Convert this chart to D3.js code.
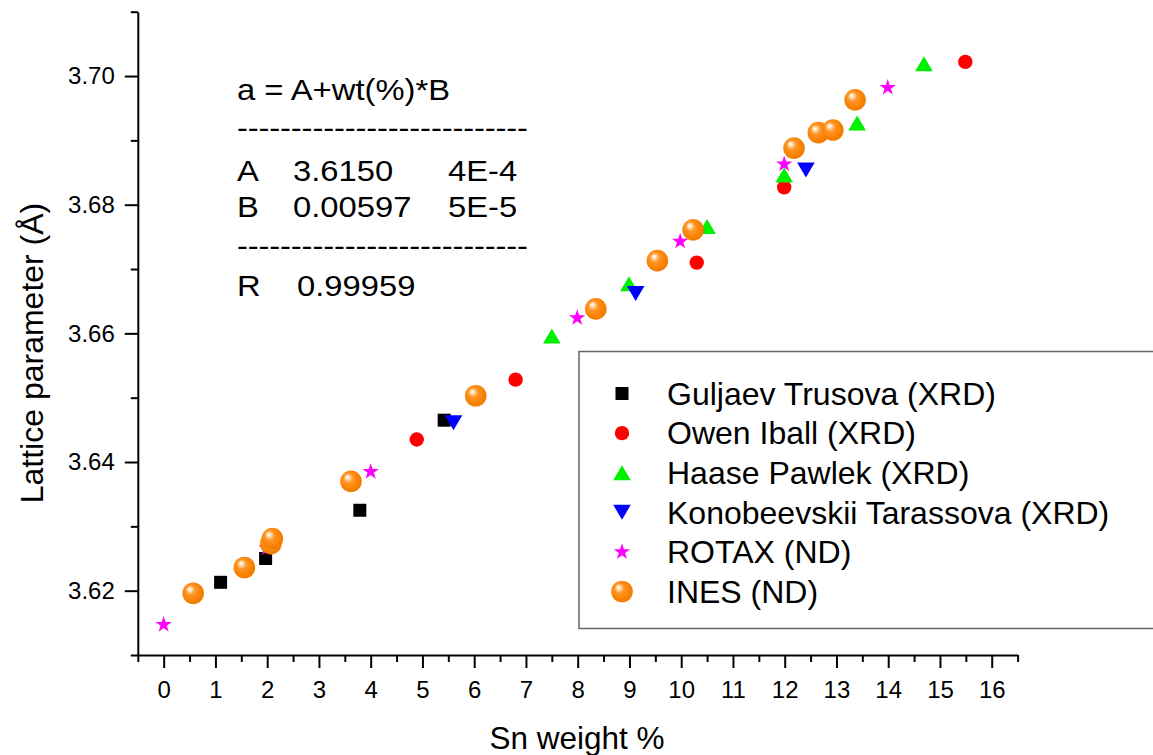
<!DOCTYPE html>
<html>
<head>
<meta charset="utf-8">
<script src="https://cdn.jsdelivr.net/npm/d3@7"></script>
<style>
  body { margin: 0; background: #fff; }
  text { font-family: "Liberation Sans", Arial, sans-serif; fill: #000; }
</style>
</head>
<body>
<script>
// data
const guljaevX = [1.10, 1.97, 3.79, 5.42];
const guljaevY = [3.6213, 3.6250, 3.6325, 3.6465];

const owenX = [4.89, 6.80, 10.30, 11.99, 15.49];
const owenY = [3.6435, 3.6528, 3.6710, 3.6827, 3.7022];

const haaseX = [7.50, 8.99, 10.50, 11.99, 13.40, 14.69];
const haaseY = [3.6596, 3.6677, 3.6766, 3.6846, 3.6927, 3.7019];

const konobX = [5.60, 9.12, 12.41];
const konobY = [3.6461, 3.6662, 3.6854];

const rotaxX = [0.00, 1.99, 4.00, 7.99, 9.98, 11.99, 13.99];
const rotaxY = [3.6147, 3.6266, 3.6385, 3.6624, 3.6743, 3.6863, 3.6982];

const inesX = [0.57, 1.56, 2.07, 2.10, 3.62, 6.03, 8.35, 9.54, 10.23, 12.18, 12.65, 12.93, 13.36];
const inesY = [3.6196, 3.6236, 3.6273, 3.6281, 3.6370, 3.6503, 3.6638, 3.6713, 3.6761, 3.6888, 3.6912, 3.6916, 3.6963];

const seriesNames = ["Guljaev Trusova (XRD)", "Owen Iball (XRD)", "Haase Pawlek (XRD)",
                     "Konobeevskii Tarassova (XRD)", "ROTAX (ND)", "INES (ND)"];

const xMajor = d3.range(0, 17, 1);
const xMinor = d3.range(-0.5, 17, 1);
const yMajor = [3.62, 3.64, 3.66, 3.68, 3.70];
const yMinor = [3.61, 3.63, 3.65, 3.67, 3.69, 3.71];

const fitLines = [
  ["a = A+wt(%)*B", "", ""],
  ["A", "3.6150", "4E-4"],
  ["B", "0.00597", "5E-5"],
  ["R", "0.99959", ""]
];

const width = 1153, height = 755;
const x = d3.scaleLinear().domain([-0.5, 16.5]).range([137.8, 1017.6]);
const y = d3.scaleLinear().domain([3.61, 3.71]).range([655, 11.7]);

const svg = d3.select("body").append("svg")
  .attr("width", width).attr("height", height);

const defs = svg.append("defs");
const grad = defs.append("radialGradient").attr("id", "ball")
  .attr("cx", "0.45").attr("cy", "0.45").attr("r", "0.58")
  .attr("fx", "0.33").attr("fy", "0.3");
grad.append("stop").attr("offset", "0%").attr("stop-color", "#ffffff");
grad.append("stop").attr("offset", "14%").attr("stop-color", "#ffe2bd");
grad.append("stop").attr("offset", "38%").attr("stop-color", "#ff9526");
grad.append("stop").attr("offset", "80%").attr("stop-color", "#f78000");
grad.append("stop").attr("offset", "100%").attr("stop-color", "#ee7a00");

// axes
svg.append("g").attr("transform", `translate(${x(-0.5)},0)`)
  .call(d3.axisLeft(y).tickValues(yMajor).tickSize(13).tickSizeOuter(0).tickPadding(10)
    .tickFormat(d3.format(".2f")));
svg.append("g").attr("transform", `translate(${x(-0.5)},0)`)
  .call(d3.axisLeft(y).tickValues(yMinor).tickSize(7).tickFormat(""))
  .call(g => g.select(".domain").remove());

svg.append("g").attr("transform", `translate(0,${y(3.61)})`)
  .call(d3.axisBottom(x).tickValues(xMajor).tickSize(13).tickSizeOuter(0).tickPadding(13)
    .tickFormat(d3.format("d")));
svg.append("g").attr("transform", `translate(0,${y(3.61)})`)
  .call(d3.axisBottom(x).tickValues(xMinor).tickSize(7).tickFormat(""))
  .call(g => g.select(".domain").remove());

svg.selectAll(".domain, .tick line").attr("stroke", "#000").attr("stroke-width", 2);
svg.selectAll(".tick text").style("font-size", "24px").attr("fill", "#000");

svg.append("text").attr("x", 577).attr("y", 749).attr("text-anchor", "middle")
  .style("font-size", "31.5px").text("Sn weight %");
svg.append("text").attr("transform", "translate(43,353) rotate(-90)").attr("text-anchor", "middle")
  .style("font-size", "32px").text("Lattice parameter (Å)");

// marker shapes
const shapes = {
  square: "M-6.5,-6.5H6.5V6.5H-6.5Z",
  circle: d3.symbol(d3.symbolCircle, Math.PI * 7.2 * 7.2)(),
  up: "M0,-7.5L8.8,7.5H-8.8Z",
  down: "M0,7.5L8.8,-7.5H-8.8Z",
  star: d3.symbol(d3.symbolStar, 84)()
};

function drawSeries(xs, ys, shape, color) {
  svg.append("g").selectAll("path").data(xs).join("path")
    .attr("d", shapes[shape])
    .attr("fill", color)
    .attr("transform", (d, i) => `translate(${x(d)},${y(ys[i])})`);
}
drawSeries(guljaevX, guljaevY, "square", "#000000");
drawSeries(owenX, owenY, "circle", "#ff0000");
drawSeries(haaseX, haaseY, "up", "#00f000");
drawSeries(konobX, konobY, "down", "#0000ff");
drawSeries(rotaxX, rotaxY, "star", "#ff00ff");
svg.append("g").selectAll("circle").data(inesX).join("circle")
  .attr("cx", d => x(d)).attr("cy", (d, i) => y(inesY[i])).attr("r", 10.8)
  .attr("fill", "url(#ball)");

// fit parameters box (text is a little wide in the original)
const sx = 1.13;
const fit = svg.append("g").attr("transform", `translate(237,0) scale(${sx},1)`)
  .style("font-size", "29px");
const colX = [0, (293 - 237) / sx, (448 - 237) / sx];
const rowY = [100, 181, 217.5, 296];
fitLines.forEach((row, r) => {
  row.forEach((t, c) => {
    if (!t) return;
    const cx = (r === 3 && c === 1) ? (297 - 237) / sx : colX[c];
    fit.append("text").attr("x", cx).attr("y", rowY[r]).text(t);
  });
});
const dashes = "---------------------------";
[138, 256.5].forEach(yy => fit.append("text").attr("x", 0).attr("y", yy)
  .attr("textLength", 291 / sx).text(dashes));

// legend
const legend = svg.append("g");
legend.append("rect").attr("x", 579).attr("y", 351.5).attr("width", 620).attr("height", 277)
  .attr("fill", "#fff").attr("stroke", "#666").attr("stroke-width", 1.5);
const legShapes = ["square", "circle", "up", "down", "star", "ball"];
const legColors = ["#000000", "#ff0000", "#00f000", "#0000ff", "#ff00ff", null];
seriesNames.forEach((name, i) => {
  const cy = 393.5 + i * 39.6;
  if (legShapes[i] === "ball") {
    legend.append("circle").attr("cx", 622).attr("cy", cy).attr("r", 10.8).attr("fill", "url(#ball)");
  } else {
    legend.append("path").attr("d", shapes[legShapes[i]]).attr("fill", legColors[i])
      .attr("transform", `translate(622,${cy})`);
  }
  legend.append("text").attr("x", 667).attr("y", cy).attr("dy", "0.35em")
    .style("font-size", "32px").text(name);
});
</script>
</body>
</html>
